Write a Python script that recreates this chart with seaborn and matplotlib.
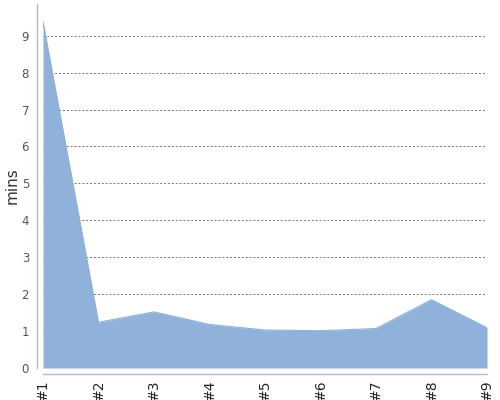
import numpy as np
import matplotlib
matplotlib.use('Agg')
import matplotlib.pyplot as plt
import seaborn as sns
import pandas as pd

# valores
runs = ['#1', '#2', '#3', '#4', '#5', '#6', '#7', '#8', '#9']
mins = [9.38, 1.24, 1.52, 1.18, 1.03, 1.01, 1.07, 1.85, 1.09]

AREA_COLOR = '#8fb1da'

sns.set_style('white')
plt.rcParams['font.family'] = ['DejaVu Sans']

data = pd.DataFrame({'run': runs, 'mins': mins})
data['pos'] = np.arange(len(data))

fig = plt.figure(figsize=(5, 4), dpi=100)
ax = fig.add_axes([0.086, 0.08, 0.888, 0.91])

sns.lineplot(x='pos', y='mins', data=data, ax=ax, color=AREA_COLOR, linewidth=0.8)
ax.fill_between(data['pos'], data['mins'], 0, color=AREA_COLOR, linewidth=0)

ax.set_xlim(0, len(runs) - 1)
ax.set_ylim(0, 9.86)
ax.set_yticks(range(0, 10))
ax.set_xticks(data['pos'])
ax.set_xticklabels(runs, fontsize=6.5, color='#111111')
ax.tick_params(axis='x', labelrotation=90, length=3, width=0.8, color='#bbbbbb', pad=1)
ax.tick_params(axis='y', labelsize=8.5, labelcolor='#555555', length=3, width=0.8, color='#bbbbbb', pad=3)

for y in range(1, 10):
    ax.axhline(y, color='#777777', linestyle=(0, (2, 2)), linewidth=0.7, zorder=0.5)

ax.set_xlabel('')
ax.set_ylabel('mins', fontsize=11, color='#333333')
ax.yaxis.set_label_coords(-0.052, 0.5)

for side in ['top', 'right']:
    ax.spines[side].set_visible(False)
for side in ['left', 'bottom']:
    ax.spines[side].set_position(('outward', 4))
    ax.spines[side].set_color('#bbbbbb')
    ax.spines[side].set_linewidth(1)

fig.savefig('out.png', dpi=100)
